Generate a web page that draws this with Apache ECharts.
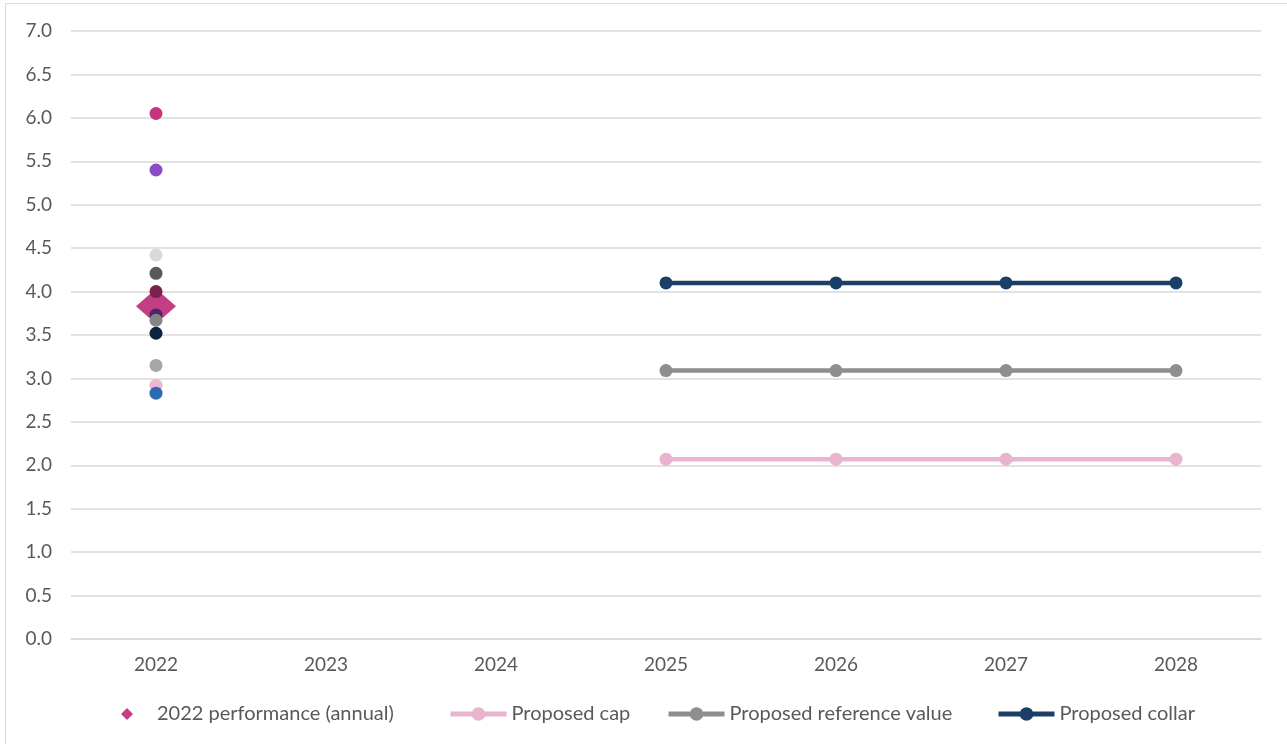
<!DOCTYPE html>
<html>
<head>
<meta charset="utf-8">
<title>Performance and proposed targets</title>
<script src="https://cdn.jsdelivr.net/npm/echarts@6/dist/echarts.min.js"></script>
<style>
  html, body { margin: 0; padding: 0; background: #ffffff; }
  #chart { width: 1287px; height: 744px; }
</style>
</head>
<body>
<div id="chart"></div>
<script>
// Years on the category axis
const years = ['2022', '2023', '2024', '2025', '2026', '2027', '2028'];

// Industry-wide 2022 performance (annual average)
const performance2022 = [3.83];

// Individual 2022 results, one per company
const companyValues2022 = [6.05, 5.40, 4.42, 4.21, 4.00, 3.73, 3.67, 3.52, 3.15, 2.92, 2.83];
const companyColors2022 = ['#C4357E', '#8B4BC9', '#D9D9D9', '#595959', '#7B2150', '#4B2567',
                           '#858585', '#0C2340', '#A6A6A6', '#EFB6D2', '#2B6CB0'];

// Proposed targets for 2025-2028
const proposedCap       = [null, null, null, 2.07, 2.07, 2.07, 2.07];
const proposedReference = [null, null, null, 3.09, 3.09, 3.09, 3.09];
const proposedCollar    = [null, null, null, 4.10, 4.10, 4.10, 4.10];

// Y axis ticks
const yMin = 0, yMax = 7, yStep = 0.5;

const FONT = 'Lato, "Open Sans", sans-serif';
const TEXT = '#595959';

const chart = echarts.init(document.getElementById('chart'), null, { renderer: 'canvas' });

const companyData = companyValues2022.map((v, i) => ({
  value: [years[0], v],
  itemStyle: { color: companyColors2022[i], opacity: 1 }
}));

function lineSeries(name, data, color) {
  return {
    name: name,
    type: 'line',
    data: data,
    symbol: 'circle',
    symbolSize: 13,
    showSymbol: true,
    lineStyle: { width: 4.5, color: color },
    itemStyle: { color: color },
    emphasis: { disabled: true },
    z: 3
  };
}

function legendFor(name, left, extra) {
  return Object.assign({
    data: [name],
    left: left,
    top: 699,
    orient: 'horizontal',
    itemWidth: 56,
    itemHeight: 17,
    selectedMode: false,
    lineStyle: { width: 5 },
    textStyle: { fontFamily: FONT, fontSize: 20, color: TEXT }
  }, extra || {});
}

chart.setOption({
  animation: false,
  backgroundColor: '#ffffff',
  grid: { left: 71, right: 26, top: 31, bottom: 105, containLabel: false },
  graphic: [{
    type: 'rect',
    shape: { x: 5.5, y: 3.5, width: 1300, height: 760 },
    style: { fill: 'none', stroke: '#D9D9D9', lineWidth: 1 },
    silent: true,
    z: -10
  }],
  legend: [
    legendFor('2022 performance (annual)', 97, {
      itemWidth: 50,
      itemHeight: 12,
      data: [{
        name: '2022 performance (annual)',
        icon: 'path://M0,0 M50,12 M19,6 L25,0 L31,6 L25,12 Z'
      }]
    }),
    legendFor('Proposed cap', 443),
    legendFor('Proposed reference value', 661),
    legendFor('Proposed collar', 991)
  ],
  xAxis: {
    type: 'category',
    data: years,
    boundaryGap: true,
    axisLine: { show: true, lineStyle: { color: '#D9D9D9', width: 1.5 } },
    axisTick: { show: false },
    axisLabel: { fontFamily: FONT, fontSize: 19, color: TEXT, margin: 16 },
    splitLine: { show: false }
  },
  yAxis: {
    type: 'value',
    min: yMin,
    max: yMax,
    interval: yStep,
    axisLine: { show: false },
    axisTick: { show: false },
    axisLabel: {
      fontFamily: FONT, fontSize: 19, color: TEXT, margin: 19,
      formatter: v => v.toFixed(1)
    },
    splitLine: { show: true, lineStyle: { color: '#D9D9D9', width: 1.5 } }
  },
  series: [
    {
      name: '2022 performance (annual)',
      type: 'scatter',
      data: performance2022.map(v => [years[0], v]),
      symbol: 'diamond',
      symbolSize: [40, 35],
      itemStyle: { color: '#C43E86', opacity: 1 },
      emphasis: { disabled: true },
      z: 2
    },
    {
      name: '2022 company results',
      type: 'scatter',
      data: companyData,
      symbol: 'circle',
      symbolSize: 13,
      emphasis: { disabled: true },
      z: 4
    },
    lineSeries('Proposed cap', proposedCap, '#E8B4CF'),
    lineSeries('Proposed reference value', proposedReference, '#8E8E8E'),
    lineSeries('Proposed collar', proposedCollar, '#1B3F66')
  ]
});
</script>
</body>
</html>
